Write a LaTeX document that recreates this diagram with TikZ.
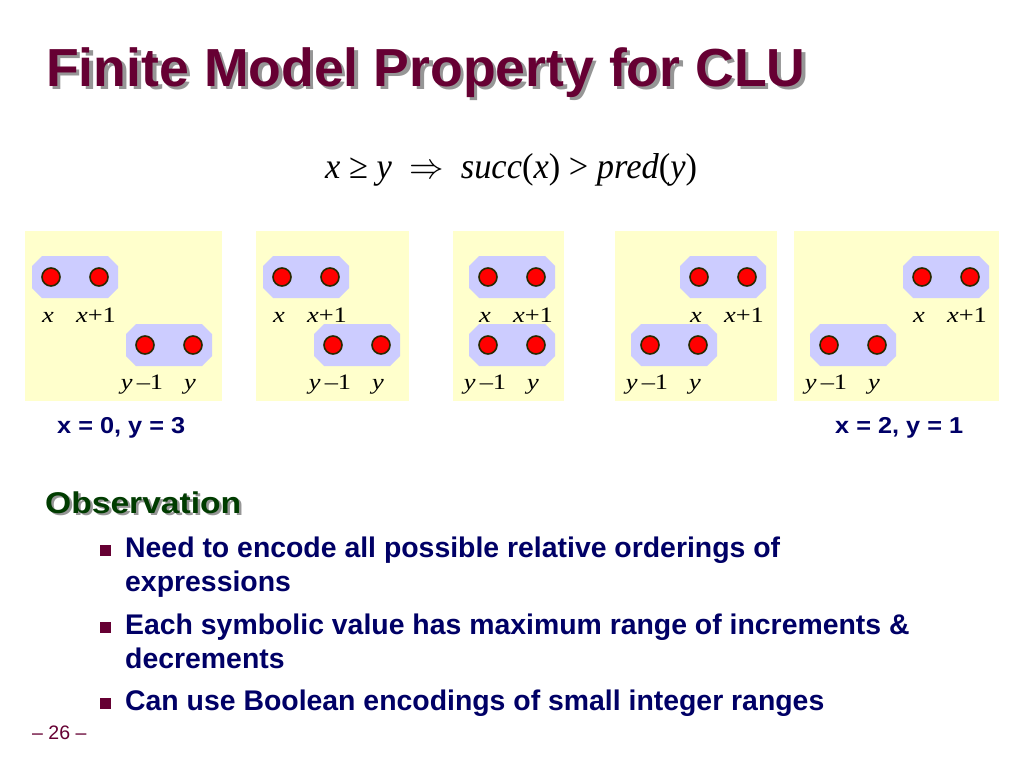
\RequirePackage{fix-cm}
\documentclass[tikz,border=0pt]{standalone}
\usepackage{fontspec}
\usepackage{graphicx}
\setmainfont{Liberation Sans}
\newfontfamily\tnr{Liberation Serif}
\definecolor{maroon}{RGB}{102,0,51}
\definecolor{navy}{RGB}{0,0,102}
\definecolor{dkgreen}{RGB}{0,60,0}
\definecolor{shadowgray}{RGB}{150,150,150}
\definecolor{panelyellow}{RGB}{255,255,204}
\definecolor{pilllav}{RGB}{204,204,255}
\definecolor{dotred}{RGB}{255,0,0}
\definecolor{dotrim}{RGB}{40,40,0}
\newcommand{\fsz}[1]{\fontsize{#1}{#1}\selectfont}
\newcommand{\pillat}[3]{%
  \fill[pillshape,shift={(#2,#3)}] (-43,-11) -- (-33,-21) -- (33,-21) -- (43,-11) -- (43,11) -- (33,21) -- (-33,21) -- (-43,11) -- cycle;
  \node[dot] (#1a) at (#2-24,#3) {};
  \node[dot] (#1b) at (#2+24,#3) {};}
\newcommand{\xlab}[2]{%
  \node[lbl] (#1x) at (#2-27,322) {\scalebox{1.2}[1]{\textit{x}}};
  \node[lbl] (#1xp) at (#2+21,322) {\scalebox{1.2}[1]{\textit{x}+1}};}
\newcommand{\ylab}[2]{%
  \node[lbl] (#1ym) at (#2-27,389) {\scalebox{1.2}[1]{\textit{y}\hspace{3.5pt}–1}};
  \node[lbl] (#1y) at (#2+21,389) {\scalebox{1.2}[1]{\textit{y}}};}
\begin{document}
\begin{tikzpicture}[x=1pt,y=-1pt,
  panel/.style={fill=panelyellow},
  pillshape/.style={fill=pilllav},
  dot/.style={circle,fill=dotred,draw=dotrim,line width=1.6pt,minimum size=18pt,inner sep=0pt},
  lbl/.style={anchor=base,inner sep=0pt,font=\tnr\fsz{22}},
  bodytext/.style={anchor=base west,inner sep=0pt,text=navy,font=\fsz{28.4}\bfseries},
  bulletsq/.style={rectangle,fill=maroon,minimum size=11pt,inner sep=0pt},
  case/.style={anchor=base west,inner sep=0pt,text=navy,font=\fsz{23}\bfseries}]
\useasboundingbox (0,0) rectangle (1024,768);
\fill[white] (0,0) rectangle (1024,768);
% title
\node[anchor=base west,inner sep=0pt,text=shadowgray,font=\fsz{53.6}\bfseries] (titleshadow) at (49.5,89.5) {Finite Model Property for CLU};
\node[anchor=base west,inner sep=0pt,text=maroon,font=\fsz{53.6}\bfseries] (title) at (46,86) {Finite Model Property for CLU};
% formula
\node[anchor=base west,inner sep=0pt] (formula) at (325,178) {\resizebox{372pt}{\height}{\tnr\fsz{36}\textit{x} ≥ \textit{y}\ \ $\Rightarrow$\ \ \textit{succ}(\textit{x}) > \textit{pred}(\textit{y})}};
% panels
\fill[panel] (25,231) rectangle (222,401);
\fill[panel] (256,231) rectangle (409,401);
\fill[panel] (453,231) rectangle (564,401);
\fill[panel] (615,231) rectangle (777,401);
\fill[panel] (794,231) rectangle (999,401);
% panel 1
\pillat{pa}{75}{277}
\pillat{pb}{169}{345}
\xlab{pa}{75}
\ylab{pb}{169}
% panel 2
\pillat{qa}{306}{277}
\pillat{qb}{357}{345}
\xlab{qa}{306}
\ylab{qb}{357}
% panel 3
\pillat{ra}{512}{277}
\pillat{rb}{512}{345}
\xlab{ra}{512}
\ylab{rb}{512}
% panel 4
\pillat{sa}{723}{277}
\pillat{sb}{674}{345}
\xlab{sa}{723}
\ylab{sb}{674}
% panel 5
\pillat{ta}{946}{277}
\pillat{tb}{853}{345}
\xlab{ta}{946}
\ylab{tb}{853}
% cases
\node[case] (case1) at (57,433) {\scalebox{1.1}[1]{x = 0, y = 3}};
\node[case] (case2) at (835,433) {\scalebox{1.1}[1]{x = 2, y = 1}};
% observation
\node[anchor=base west,inner sep=0pt,text=shadowgray,font=\fsz{30}\bfseries] (obsshadow) at (47.5,515.5) {\scalebox{1.12}[1]{Observation}};
\node[anchor=base west,inner sep=0pt,text=dkgreen,font=\fsz{30}\bfseries] (obs) at (45,513) {\scalebox{1.12}[1]{Observation}};
% bullets
\node[bulletsq] (b1) at (105.5,550.5) {};
\node[bodytext] (t1) at (125,557) {Need to encode all possible relative orderings of};
\node[bodytext] (t1b) at (125,591) {expressions};
\node[bulletsq] (b2) at (105.5,627.5) {};
\node[bodytext] (t2) at (125,634) {Each symbolic value has maximum range of increments \&};
\node[bodytext] (t2b) at (125,668) {decrements};
\node[bulletsq] (b3) at (105.5,703.5) {};
\node[bodytext] (t3) at (125,710) {Can use Boolean encodings of small integer ranges};
% page number
\node[anchor=base west,inner sep=0pt,text=maroon,font=\fsz{19.5}] (pagenum) at (32,739) {– 26 –};
\end{tikzpicture}
\end{document}
